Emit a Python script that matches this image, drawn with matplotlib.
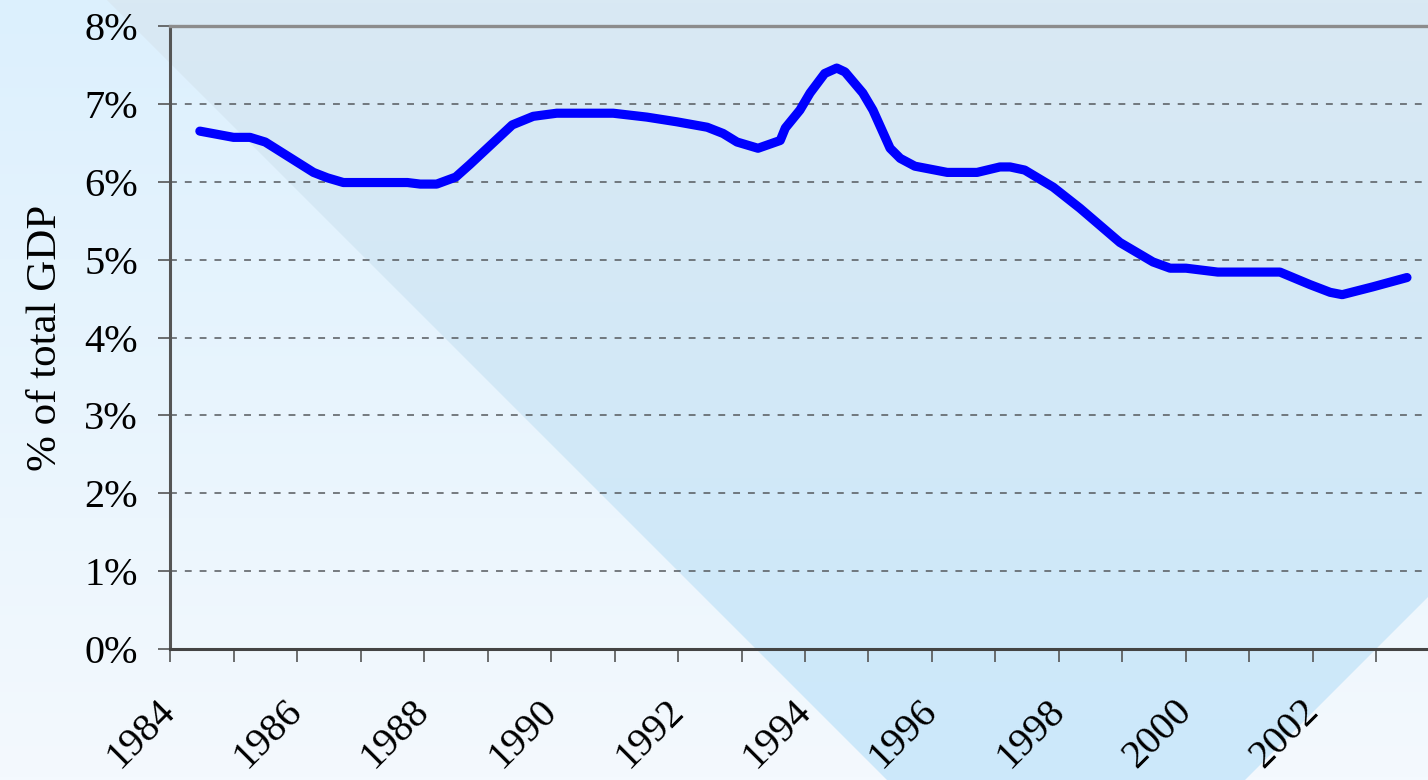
import numpy as np
import matplotlib.pyplot as plt
from matplotlib.patches import Polygon
from matplotlib.colors import LinearSegmentedColormap

# === DATA ===
years = [1984.47, 1985.0, 1985.26, 1985.5, 1986.26, 1986.48, 1986.73, 1987.74, 1987.94,
         1988.2, 1988.5, 1988.72, 1988.93, 1989.39, 1989.72, 1990.09, 1990.98, 1991.51,
         1991.98, 1992.46, 1992.71, 1992.93, 1993.26, 1993.61, 1993.69, 1993.92, 1994.08,
         1994.31, 1994.5, 1994.63, 1994.91, 1995.07, 1995.34, 1995.5, 1995.73, 1996.24,
         1996.71, 1997.07, 1997.23, 1997.46, 1997.91, 1998.33, 1998.96, 1999.48, 1999.75,
         2000.0, 2000.5, 2001.48, 2001.95, 2002.27, 2002.46, 2002.94, 2003.48]
share = [6.65, 6.57, 6.57, 6.51, 6.12, 6.05, 5.99, 5.99, 5.97,
         5.97, 6.06, 6.22, 6.38, 6.73, 6.84, 6.88, 6.88, 6.83,
         6.77, 6.70, 6.62, 6.51, 6.43, 6.53, 6.69, 6.92, 7.14,
         7.39, 7.46, 7.41, 7.14, 6.92, 6.43, 6.30, 6.20, 6.12,
         6.12, 6.19, 6.19, 6.15, 5.93, 5.66, 5.22, 4.97, 4.89,
         4.89, 4.84, 4.84, 4.68, 4.58, 4.55, 4.65, 4.77]
year_ticks = list(range(1984, 2004))
year_labels = [str(y) if y % 2 == 0 else '' for y in year_ticks]
pct_ticks = list(range(0, 9))
pct_labels = [f'{p}%' for p in pct_ticks]

plt.rcParams['font.family'] = ['Liberation Serif', 'DejaVu Serif']

W, H = 1428, 780
fig = plt.figure(figsize=(W / 100, H / 100), dpi=100)

# === BACKGROUND: gradient plus diagonal wedge ===
bg = fig.add_axes([0, 0, 1, 1], zorder=-1)
bg.set_xlim(0, W)
bg.set_ylim(H, 0)
bg.axis('off')

base_cmap = LinearSegmentedColormap.from_list('base', ['#dcf0fd', '#f4f9fe'])
wedge_cmap = LinearSegmentedColormap.from_list('wedge', ['#d9e9f3', '#cce8fb'])
grad = np.linspace(0, 1, 256).reshape(-1, 1)
bg.imshow(grad, cmap=base_cmap, extent=[0, W, H, 0], aspect='auto')
wedge_img = bg.imshow(grad, cmap=wedge_cmap, extent=[0, W, H, 0], aspect='auto')
wedge = Polygon([(107, 0), (W, 0), (W, 2025 - W), (2025 - H, H), (107 + H, H)],
                closed=True, facecolor='none', edgecolor='none', transform=bg.transData)
bg.add_patch(wedge)
wedge_img.set_clip_path(wedge)

# === MAIN AXES ===
ax = fig.add_axes([170 / W, (H - 649) / H, (W - 170) / W, (649 - 26) / H])
ax.set_facecolor('none')
x_max = 1984 + (W - 170) / 63.5
ax.set_xlim(1984, x_max)
ax.set_ylim(0, 8)

ax.plot(years, share, color='#0000ff', lw=6.6, solid_capstyle='round',
        solid_joinstyle='round', zorder=3)

ax.set_yticks(pct_ticks)
ax.set_yticklabels(pct_labels, fontsize=29)
ax.set_xticks(year_ticks)
ax.set_xticklabels(year_labels, fontsize=29, rotation=45, ha='right',
                   va='center', rotation_mode='anchor')
ax.tick_params(axis='y', direction='out', length=9, width=1.2, color='#555555', pad=14)
ax.tick_params(axis='x', direction='out', length=9, width=1.2, color='#555555', pad=32)
ax.set_ylabel('% of total GDP', fontsize=31, labelpad=14)

for y in range(1, 8):
    ax.axhline(y, color='#55595d', lw=1.1, linestyle=(0, (4.5, 5.2)), zorder=1)

ax.spines['right'].set_visible(False)
ax.spines['left'].set_color('#555555')
ax.spines['left'].set_linewidth(2.2)
ax.spines['bottom'].set_color('#444444')
ax.spines['bottom'].set_linewidth(2.2)
ax.spines['top'].set_color('#8c8c8c')
ax.spines['top'].set_linewidth(2.4)

fig.savefig('out.png', dpi=100)
